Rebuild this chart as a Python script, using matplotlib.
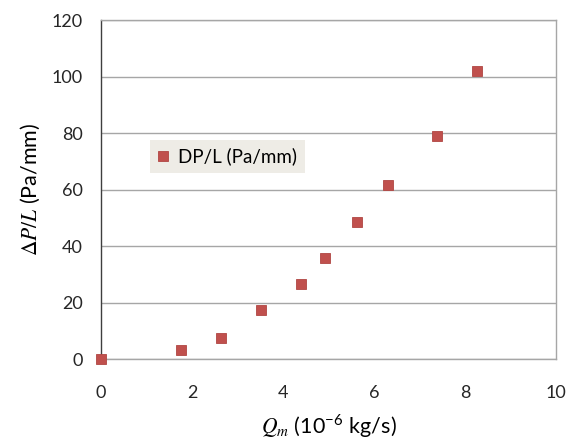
import matplotlib
matplotlib.use("Agg")
import matplotlib.pyplot as plt

# данные
qm = [0.0, 1.76, 2.64, 3.52, 4.40, 4.92, 5.63, 6.31, 7.38, 8.26]
dp_l = [0.0, 3.2, 7.6, 17.3, 26.5, 35.7, 48.5, 61.5, 78.8, 101.8]

x_ticks = [0, 2, 4, 6, 8, 10]
y_ticks = [0, 20, 40, 60, 80, 100, 120]

plt.rcParams['font.family'] = ['Lato', 'DejaVu Sans']
plt.rcParams['mathtext.fontset'] = 'stix'

fig = plt.figure(figsize=(5.72, 4.44), dpi=100)
ax = fig.add_axes([0.1766, 0.1914, 0.7955, 0.7635])

ax.plot(qm, dp_l, linestyle='none', marker='s', markersize=7.5,
        color='#C0504D', markeredgecolor='#B04542', markeredgewidth=0.6,
        label='DP/L (Pa/mm)', clip_on=False, zorder=3)

ax.set_xlim(0, 10)
ax.set_ylim(0, 120)
ax.set_xticks(x_ticks)
ax.set_yticks(y_ticks)

ax.yaxis.grid(True, color='#A6A6A6', linewidth=1.0)
ax.set_axisbelow(True)

for side in ['top', 'right', 'bottom']:
    ax.spines[side].set_color('#A6A6A6')
    ax.spines[side].set_linewidth(1.0)
ax.spines['left'].set_color('#3F3F3F')
ax.spines['left'].set_linewidth(1.0)

ax.tick_params(axis='both', length=0, labelsize=13, labelcolor='#262626')
ax.tick_params(axis='y', pad=13)
ax.tick_params(axis='x', pad=19)

ax.set_xlabel(r'$Q_m$ (10$^{\mathregular{-6}}$ kg/s)', fontsize=15.5, labelpad=8)
ax.set_ylabel(r'$\Delta P/L$ (Pa/mm)', fontsize=15.5, labelpad=7)

leg = ax.legend(loc='upper left', bbox_to_anchor=(0.108, 0.646), borderaxespad=0,
                frameon=True, fontsize=13.5, handlelength=0.6, handletextpad=0.5,
                borderpad=0.4, fancybox=False)
leg.get_frame().set_facecolor('#EEECE6')
leg.get_frame().set_edgecolor('none')
leg.get_frame().set_alpha(1.0)

fig.savefig('out.png', dpi=100)
